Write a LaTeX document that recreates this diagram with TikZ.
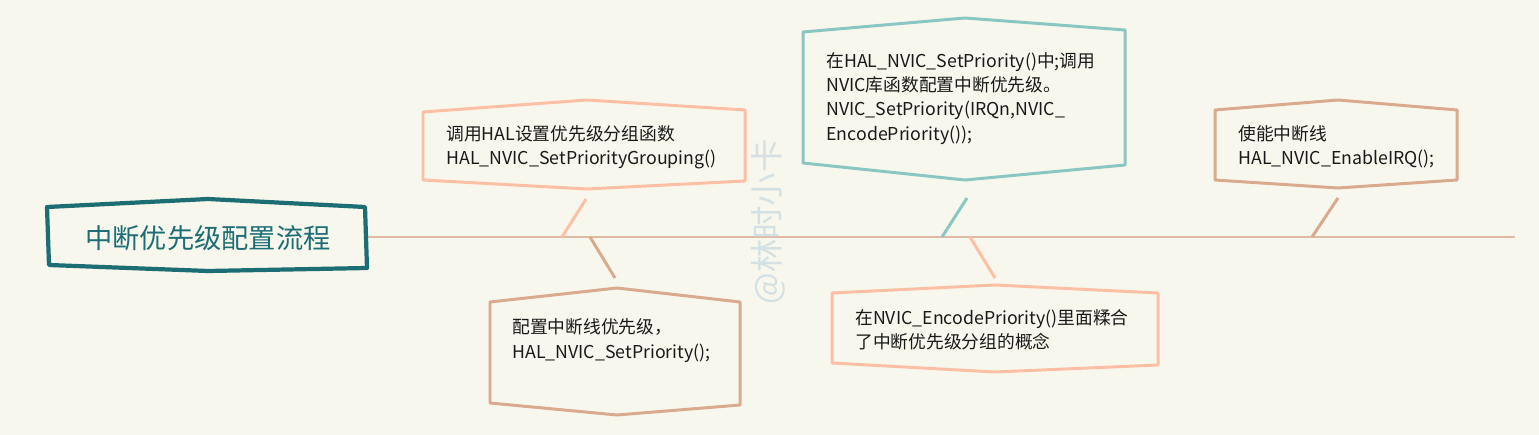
\documentclass[tikz,border=0pt]{standalone}
\usepackage{fontspec}
\setmainfont{Noto Sans CJK SC}
\usetikzlibrary{positioning}

\definecolor{paper}{HTML}{F8F7ED}
\definecolor{titleteal}{HTML}{1D6E74}
\definecolor{spinecol}{HTML}{DFBBA3}
\definecolor{peach}{HTML}{FDBFA5}
\definecolor{tan}{HTML}{D9AA8D}
\definecolor{lightteal}{HTML}{8AC7C3}
\definecolor{inkcol}{HTML}{1A1A1A}
\definecolor{markcol}{HTML}{D3E0E4}

\tikzset{
  spine/.style={draw=spinecol, line width=1.2pt},
  titlebox/.style={draw=titleteal, line width=2.4pt, line join=round},
  box/.style={line width=1.7pt, line join=round},
  twig/.style={line width=1.7pt},
  titletext/.style={text=titleteal, font=\fontsize{15.5}{18}\selectfont},
  boxtext/.style={text=inkcol, align=left, anchor=west, inner sep=0pt,
    font=\fontsize{10.1}{13.8}\selectfont},
}

\begin{document}
\begin{tikzpicture}[x=0.02cm, y=-0.02cm]
  \fill[paper] (0,0) rectangle (1539,435);
  \useasboundingbox (0,0) rectangle (1539,435);

  % main line
  \coordinate (start) at (367,237);
  \coordinate (end) at (1515,237);
  \draw[spine] (start) -- (end);

  % title
  \draw[titlebox] (47,207) -- (208,199) -- (365,207) -- (367,268) -- (208,271) -- (49,265) -- cycle;
  \node[titletext] (title) at (208,238) {中断优先级配置流程};

  % watermark
  \node[text=markcol, rotate=90, font=\fontsize{19}{22}\selectfont] (mark) at (768,222) {@林时小卡};

  % step 1: grouping
  \coordinate (s1) at (562,237);
  \coordinate (t1) at (586,199);
  \draw[twig, draw=peach] (s1) -- (t1);
  \draw[box, draw=peach] (423,112) -- (587,100) -- (745,110) -- (745,181) -- (587,189) -- (423,180) -- cycle;
  \node[boxtext] (grp) at (446,147.5) {调用HAL设置优先级分组函数\\HAL\_NVIC\_SetPriorityGrouping()};

  % step 2: set priority
  \coordinate (s2) at (590,237);
  \coordinate (t2) at (615,278);
  \draw[twig, draw=tan] (s2) -- (t2);
  \draw[box, draw=tan] (490,302) -- (617,288) -- (740,302) -- (740,405) -- (617,415) -- (490,403) -- cycle;
  \node[boxtext] (prio) at (512,340.5) {配置中断线优先级，\\HAL\_NVIC\_SetPriority();};

  % step 3: inside set priority
  \coordinate (s3) at (942,237);
  \coordinate (t3) at (967,198);
  \draw[twig, draw=lightteal] (s3) -- (t3);
  \draw[box, draw=lightteal] (803,32) -- (965,18) -- (1125,30) -- (1125,165) -- (965,180) -- (803,163) -- cycle;
  \node[boxtext] (inner) at (826,98.5) {在HAL\_NVIC\_SetPriority()中;调用\\NVIC库函数配置中断优先级。\\NVIC\_SetPriority(IRQn,NVIC\_\\EncodePriority());};

  % step 4: encode priority
  \coordinate (s4) at (970,237);
  \coordinate (t4) at (995,278);
  \draw[twig, draw=peach] (s4) -- (t4);
  \draw[box, draw=peach] (832,293) -- (995,285) -- (1158,293) -- (1158,365) -- (995,372) -- (832,363) -- cycle;
  \node[boxtext] (enc) at (855,329.5) {在NVIC\_EncodePriority()里面糅合\\了中断优先级分组的概念};

  % step 5: enable
  \coordinate (s5) at (1312,237);
  \coordinate (t5) at (1338,198);
  \draw[twig, draw=tan] (s5) -- (t5);
  \draw[box, draw=tan] (1215,110) -- (1338,100) -- (1457,110) -- (1457,180) -- (1338,188) -- (1215,180) -- cycle;
  \node[boxtext] (irq) at (1238,147) {使能中断线\\HAL\_NVIC\_EnableIRQ();};
\end{tikzpicture}
\end{document}
